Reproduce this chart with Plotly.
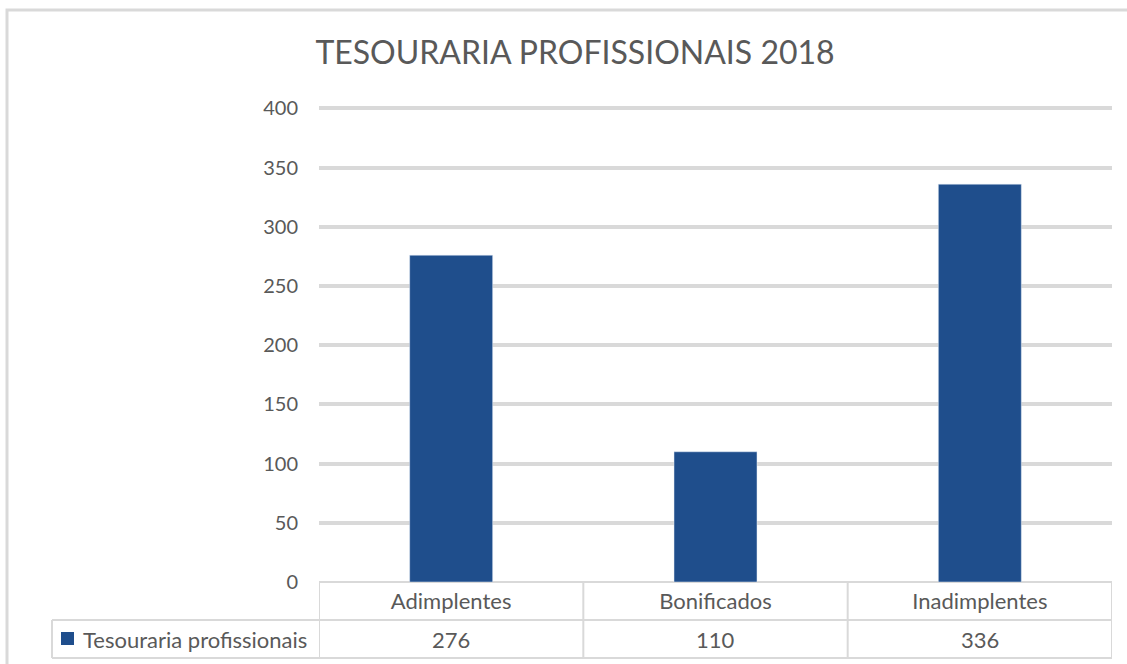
import plotly.graph_objects as go

categories = ["Adimplentes", "Bonificados", "Inadimplentes"]
values = [276, 110, 336]
series_name = "Tesouraria profissionais"
title_text = "TESOURARIA PROFISSIONAIS 2018"
y_ticks = [0, 50, 100, 150, 200, 250, 300, 350, 400]

W, H = 1127, 664
AXIS_BOTTOM = 582          # pixel row of y = 0
PX_PER_UNIT = 474 / 400    # pixels per value unit
YMAX = 402                 # a little headroom so the 400 grid line is drawn
L, R = 319, 15
B = H - AXIS_BOTTOM
T = round(AXIS_BOTTOM - YMAX * PX_PER_UNIT)
PW, PH = W - L - R, H - T - B

FONT = "Lato"
TXT = "#595959"
GRID = "#d9d9d9"
BAR = "#1F4E8C"


def fx(px):
    return (px - L) / PW


def fy(py):
    return (H - B - py) / PH


fig = go.Figure()
fig.add_trace(go.Bar(x=list(range(len(categories))), y=values, name=series_name,
                     marker_color=BAR, showlegend=False, hoverinfo="y"))

shapes = []
line = dict(color=GRID, width=2)
# outer chart border
shapes.append(dict(type="rect", xref="paper", yref="paper", x0=fx(7), x1=fx(1140),
                   y0=fy(680), y1=fy(10), line=dict(color=GRID, width=3), layer="below"))
# data table lines
row_mid, row_bot, label_left = 620, 658, 52
for yy in (row_mid, row_bot):
    shapes.append(dict(type="line", xref="paper", yref="paper", x0=fx(label_left), x1=1,
                       y0=fy(yy), y1=fy(yy), line=line))
for i in range(len(categories) + 1):
    shapes.append(dict(type="line", xref="x", yref="paper", x0=i - 0.5, x1=i - 0.5,
                       y0=0, y1=fy(row_bot), line=line))
shapes.append(dict(type="line", xref="paper", yref="paper", x0=fx(label_left), x1=fx(label_left),
                   y0=fy(row_mid), y1=fy(row_bot), line=line))
# legend key square
shapes.append(dict(type="rect", xref="paper", yref="paper", x0=fx(61), x1=fx(74),
                   y0=fy(645), y1=fy(632), fillcolor=BAR, line=dict(width=0)))

annotations = [dict(text=series_name, xref="paper", yref="paper", x=fx(81), y=fy(639),
                    xanchor="left", yanchor="middle", showarrow=False,
                    font=dict(family=FONT, size=22, color=TXT))]
for i, v in enumerate(values):
    annotations.append(dict(text=str(v), xref="x", yref="paper", x=i, y=fy(639),
                            xanchor="center", yanchor="middle", showarrow=False,
                            font=dict(family=FONT, size=22, color=TXT)))

fig.update_layout(
    width=W, height=H,
    margin=dict(l=L, r=R, t=T, b=B),
    paper_bgcolor="white", plot_bgcolor="white",
    font=dict(family=FONT, color=TXT),
    title=dict(text=title_text, x=575 / W, y=1 - 53 / H, xref="container", yref="container",
               xanchor="center", yanchor="middle",
               font=dict(family=FONT, size=32, color=TXT)),
    bargap=0.686,
    shapes=shapes,
    annotations=annotations,
    xaxis=dict(range=[-0.5, len(categories) - 0.5], tickvals=list(range(len(categories))),
               ticktext=categories, showgrid=False, zeroline=False, showline=False,
               ticks="", ticklabelstandoff=4, tickfont=dict(family=FONT, size=22, color=TXT),
               fixedrange=True),
    yaxis=dict(range=[0, YMAX], tickvals=y_ticks, showgrid=True, gridcolor=GRID, gridwidth=4,
               zeroline=True, zerolinecolor=GRID, zerolinewidth=2, showline=False,
               ticks="", ticklabelstandoff=20, tickfont=dict(family=FONT, size=20, color=TXT),
               fixedrange=True),
)

fig.write_html("out.html", config={"displayModeBar": False},
               post_script="document.body.style.margin='0';")
